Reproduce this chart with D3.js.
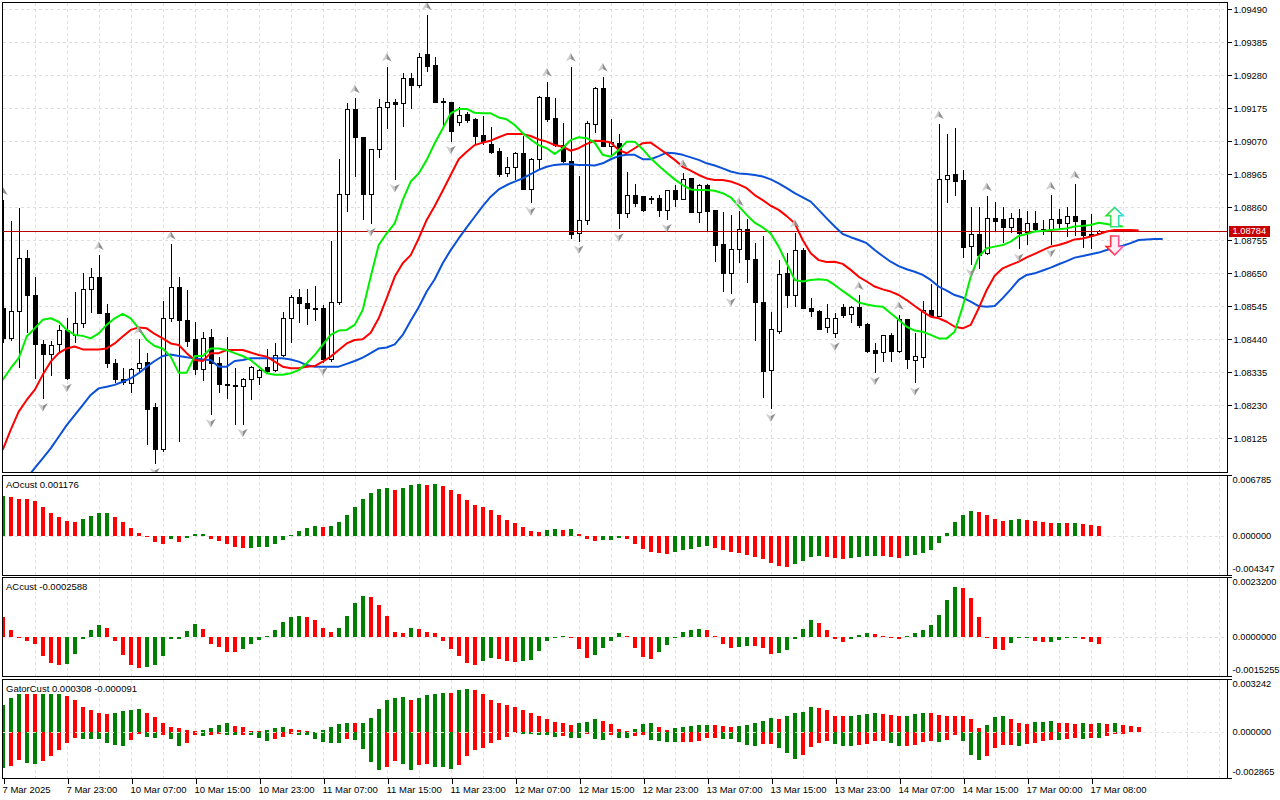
<!DOCTYPE html>
<html>
<head>
<meta charset="utf-8">
<title>EURUSD H1</title>
<script src="https://cdn.jsdelivr.net/npm/d3@7"></script>
<style>
  body { margin: 0; background: #fff; }
  svg { display: block; font-family: "Liberation Sans", Arial, sans-serif; font-size: 9.5px; }
</style>
</head>
<body>
<svg class="chart"></svg>
<script>
const width = 1280;
const height = 800;

// ---------- data ----------
const timeLabels = ["7 Mar 2025", "7 Mar 23:00", "10 Mar 07:00", "10 Mar 15:00", "10 Mar 23:00",
  "11 Mar 07:00", "11 Mar 15:00", "11 Mar 23:00", "12 Mar 07:00", "12 Mar 15:00", "12 Mar 23:00",
  "13 Mar 07:00", "13 Mar 15:00", "13 Mar 23:00", "14 Mar 07:00", "14 Mar 15:00", "17 Mar 00:00", "17 Mar 08:00"];

const priceTicks = [1.09490, 1.09385, 1.09280, 1.09175, 1.09070, 1.08965, 1.08860,
  1.08755, 1.08650, 1.08545, 1.08440, 1.08335, 1.08230, 1.08125];
const lastPrice = 1.08784;

const open = [1.08539,1.08443,1.08528,1.08698,1.08581,1.08424,1.08392,1.08422,1.08468,1.08451,
  1.08489,1.08597,1.08637,1.08523,1.08364,1.08311,1.08300,1.08348,1.08367,1.08224,
  1.08088,1.08507,1.08605,1.08499,1.08438,1.08345,1.08446,1.08364,1.08297,1.08292,
  1.08289,1.08311,1.08318,1.08351,1.08342,1.08387,1.08507,1.08574,1.08555,1.08539,
  1.08539,1.08376,1.08558,1.08901,1.09170,1.09083,1.08901,1.09043,1.09178,1.09194,
  1.09191,1.09271,1.09248,1.09345,1.09310,1.09196,1.09193,1.09129,1.09154,1.09138,
  1.09087,1.09061,1.09037,1.08968,1.08987,1.09032,1.08917,1.09013,1.09210,1.09143,
  1.09058,1.09005,1.08777,1.08818,1.09125,1.09239,1.09053,1.09064,1.08841,1.08897,
  1.08894,1.08886,1.08889,1.08849,1.08912,1.08885,1.08952,1.08844,1.08931,1.08849,
  1.08743,1.08648,1.08726,1.08790,1.08695,1.08557,1.08342,1.08464,1.08648,1.08578,
  1.08724,1.08539,1.08530,1.08478,1.08459,1.08542,1.08520,1.08542,1.08486,1.08403,
  1.08398,1.08451,1.08401,1.08502,1.08374,1.08383,1.08531,1.08514,1.08947,1.08963,
  1.08944,1.08735,1.08774,1.08712,1.08825,1.08820,1.08795,1.08825,1.08780,1.08809,
  1.08788,1.08791,1.08822,1.08807,1.08830,1.08817,1.08770,1.08777];

const high = [1.08883,1.08818,1.08857,1.08724,1.08639,1.08438,1.08436,1.08486,1.08507,1.08590,
  1.08650,1.08668,1.08708,1.08552,1.08376,1.08348,1.08350,1.08440,1.08396,1.08236,
  1.08562,1.08742,1.08639,1.08597,1.08496,1.08462,1.08472,1.08385,1.08449,1.08348,
  1.08318,1.08355,1.08347,1.08408,1.08429,1.08528,1.08581,1.08599,1.08599,1.08610,
  1.08549,1.08754,1.09013,1.09193,1.09207,1.09085,1.09046,1.09205,1.09308,1.09205,
  1.09289,1.09286,1.09350,1.09472,1.09337,1.09207,1.09193,1.09180,1.09164,1.09143,
  1.09151,1.09117,1.09048,1.09021,1.09037,1.09087,1.09016,1.09215,1.09260,1.09207,
  1.09127,1.09308,1.08960,1.09136,1.09242,1.09276,1.09140,1.09092,1.08971,1.08933,
  1.08896,1.08896,1.08899,1.08915,1.08931,1.08970,1.08954,1.08933,1.08933,1.08852,
  1.08844,1.08836,1.08848,1.08822,1.08747,1.08769,1.08526,1.08692,1.08714,1.08779,
  1.08730,1.08573,1.08533,1.08552,1.08523,1.08552,1.08546,1.08581,1.08491,1.08427,
  1.08454,1.08459,1.08518,1.08504,1.08459,1.08562,1.08615,1.09125,1.09093,1.09114,
  1.08979,1.08860,1.08860,1.08896,1.08878,1.08860,1.08841,1.08854,1.08848,1.08848,
  1.08820,1.08899,1.08854,1.08860,1.08934,1.08820,1.08838,1.08788];

const low = [1.08427,1.08436,1.08348,1.08459,1.08313,1.08249,1.08323,1.08396,1.08311,1.08427,
  1.08475,1.08523,1.08521,1.08350,1.08300,1.08295,1.08270,1.08337,1.08104,1.08043,
  1.08083,1.08496,1.08114,1.08417,1.08327,1.08307,1.08199,1.08270,1.08249,1.08168,
  1.08168,1.08247,1.08295,1.08334,1.08337,1.08385,1.08429,1.08493,1.08486,1.08499,
  1.08364,1.08369,1.08549,1.08844,1.08958,1.08820,1.08807,1.09016,1.09109,1.08947,
  1.09117,1.09173,1.09239,1.09292,1.09191,1.09111,1.09069,1.09119,1.09129,1.09058,
  1.09058,1.09030,1.08958,1.08956,1.08947,1.08915,1.08873,1.08979,1.09133,1.09053,
  1.09000,1.08758,1.08751,1.08804,1.09096,1.09051,1.09027,1.08790,1.08825,1.08862,
  1.08846,1.08871,1.08830,1.08820,1.08860,1.08883,1.08841,1.08811,1.08786,1.08687,
  1.08592,1.08584,1.08682,1.08618,1.08436,1.08252,1.08217,1.08456,1.08539,1.08544,
  1.08536,1.08512,1.08470,1.08459,1.08443,1.08507,1.08493,1.08475,1.08398,1.08334,
  1.08369,1.08369,1.08398,1.08345,1.08300,1.08348,1.08512,1.08512,1.08873,1.08897,
  1.08698,1.08677,1.08663,1.08708,1.08785,1.08746,1.08779,1.08726,1.08740,1.08785,
  1.08772,1.08740,1.08790,1.08765,1.08769,1.08732,1.08726,1.08775];

const close = [1.08443,1.08528,1.08698,1.08579,1.08424,1.08392,1.08419,1.08468,1.08316,1.08489,
  1.08597,1.08637,1.08523,1.08364,1.08311,1.08302,1.08345,1.08364,1.08217,1.08088,
  1.08507,1.08605,1.08499,1.08433,1.08345,1.08443,1.08364,1.08297,1.08292,1.08289,
  1.08311,1.08351,1.08342,1.08337,1.08387,1.08507,1.08574,1.08555,1.08539,1.08536,
  1.08376,1.08558,1.08901,1.09170,1.09083,1.08901,1.09043,1.09178,1.09194,1.09188,
  1.09271,1.09248,1.09337,1.09308,1.09193,1.09193,1.09101,1.09152,1.09136,1.09085,
  1.09069,1.09034,1.08966,1.08987,1.09032,1.08917,1.09013,1.09210,1.09140,1.09058,
  1.09005,1.08774,1.08818,1.09127,1.09239,1.09053,1.09066,1.08841,1.08897,1.08873,
  1.08849,1.08887,1.08849,1.08912,1.08885,1.08949,1.08843,1.08931,1.08846,1.08738,
  1.08648,1.08726,1.08788,1.08695,1.08557,1.08337,1.08470,1.08645,1.08578,1.08724,
  1.08539,1.08528,1.08472,1.08507,1.08507,1.08515,1.08542,1.08484,1.08401,1.08396,
  1.08451,1.08401,1.08502,1.08376,1.08385,1.08531,1.08514,1.08947,1.08961,1.08942,
  1.08733,1.08774,1.08708,1.08825,1.08814,1.08795,1.08825,1.08777,1.08809,1.08788,
  1.08790,1.08822,1.08809,1.08830,1.08814,1.08770,1.08772,1.08784];

// Alligator lines as plotted (already shifted forward: lips +3, teeth +5, jaw +8 bars)
const lips = [1.08311,1.08348,1.08380,1.08449,1.08475,1.08502,1.08507,1.08496,1.08470,1.08454,
  1.08451,1.08443,1.08459,1.08486,1.08507,1.08521,1.08507,1.08475,1.08438,1.08419,
  1.08411,1.08385,1.08334,1.08334,1.08387,1.08387,1.08411,1.08411,1.08406,1.08396,
  1.08387,1.08374,1.08353,1.08332,1.08327,1.08327,1.08332,1.08342,1.08364,1.08390,
  1.08422,1.08454,1.08468,1.08470,1.08486,1.08533,1.08639,1.08740,1.08777,1.08809,
  1.08883,1.08942,1.08968,1.09011,1.09064,1.09111,1.09159,1.09173,1.09173,1.09161,
  1.09159,1.09159,1.09146,1.09140,1.09122,1.09096,1.09076,1.09058,1.09048,1.09030,
  1.09048,1.09074,1.09083,1.09080,1.09066,1.09027,1.09021,1.09042,1.09069,1.09069,
  1.09045,1.09016,1.08992,1.08970,1.08949,1.08931,1.08917,1.08915,1.08915,1.08913,
  1.08905,1.08892,1.08864,1.08836,1.08811,1.08796,1.08777,1.08735,1.08682,1.08629,
  1.08624,1.08629,1.08631,1.08629,1.08613,1.08594,1.08576,1.08557,1.08551,1.08546,
  1.08544,1.08523,1.08502,1.08480,1.08468,1.08464,1.08454,1.08443,1.08443,1.08464,
  1.08544,1.08639,1.08703,1.08730,1.08735,1.08740,1.08751,1.08769,1.08775,1.08783,
  1.08785,1.08788,1.08790,1.08793,1.08799,1.08801,1.08804,1.08811,1.08807,1.08802,
  1.08799];

const teeth = [1.08088,1.08152,1.08210,1.08247,1.08279,1.08327,1.08369,1.08396,1.08411,1.08417,
  1.08408,1.08408,1.08408,1.08411,1.08427,1.08449,1.08470,1.08478,1.08475,1.08457,
  1.08443,1.08427,1.08422,1.08396,1.08374,1.08371,1.08396,1.08396,1.08406,1.08406,
  1.08406,1.08398,1.08390,1.08385,1.08369,1.08353,1.08348,1.08348,1.08353,1.08355,
  1.08369,1.08385,1.08406,1.08427,1.08438,1.08440,1.08461,1.08507,1.08571,1.08639,
  1.08682,1.08708,1.08761,1.08820,1.08864,1.08913,1.08963,1.09013,1.09037,1.09058,
  1.09066,1.09072,1.09083,1.09093,1.09093,1.09093,1.09087,1.09076,1.09069,1.09058,
  1.09053,1.09040,1.09048,1.09062,1.09072,1.09071,1.09066,1.09042,1.09032,1.09048,
  1.09064,1.09066,1.09048,1.09030,1.09011,1.08989,1.08977,1.08963,1.08952,1.08947,
  1.08947,1.08942,1.08933,1.08921,1.08899,1.08883,1.08865,1.08852,1.08832,1.08809,
  1.08756,1.08714,1.08692,1.08686,1.08687,1.08680,1.08661,1.08639,1.08624,1.08608,
  1.08599,1.08592,1.08581,1.08565,1.08546,1.08528,1.08512,1.08507,1.08496,1.08480,
  1.08475,1.08486,1.08539,1.08597,1.08642,1.08666,1.08677,1.08687,1.08701,1.08712,
  1.08724,1.08735,1.08740,1.08748,1.08758,1.08761,1.08767,1.08774,1.08783,1.08788,
  1.08788,1.08788,1.08786];

const jaw = [1.07934,1.07955,1.07977,1.07998,1.08030,1.08061,1.08093,1.08130,1.08167,1.08199,
  1.08231,1.08263,1.08284,1.08289,1.08295,1.08305,1.08316,1.08332,1.08353,1.08371,
  1.08387,1.08392,1.08387,1.08383,1.08380,1.08376,1.08374,1.08353,1.08353,1.08371,
  1.08374,1.08380,1.08380,1.08380,1.08380,1.08380,1.08376,1.08369,1.08358,1.08353,
  1.08353,1.08353,1.08353,1.08362,1.08371,1.08382,1.08396,1.08411,1.08414,1.08424,
  1.08454,1.08499,1.08542,1.08592,1.08631,1.08682,1.08724,1.08761,1.08796,1.08830,
  1.08864,1.08894,1.08917,1.08931,1.08942,1.08952,1.08966,1.08979,1.08989,1.08995,
  1.08997,1.08997,1.08995,1.08995,1.08993,1.09000,1.09013,1.09023,1.09027,1.09027,
  1.09013,1.09013,1.09023,1.09034,1.09032,1.09027,1.09019,1.09011,1.09000,1.08993,
  1.08984,1.08974,1.08968,1.08966,1.08963,1.08958,1.08949,1.08936,1.08921,1.08905,
  1.08892,1.08878,1.08852,1.08825,1.08799,1.08775,1.08765,1.08756,1.08746,1.08724,
  1.08705,1.08687,1.08673,1.08663,1.08655,1.08645,1.08629,1.08608,1.08595,1.08581,
  1.08573,1.08560,1.08546,1.08544,1.08546,1.08571,1.08599,1.08629,1.08645,1.08650,
  1.08659,1.08668,1.08679,1.08689,1.08700,1.08705,1.08711,1.08716,1.08724,1.08733,
  1.08738,1.08746,1.08756,1.08758,1.08759,1.08759];

const fractalUp = [0, 12, 17, 21, 44, 48, 53, 68, 71, 75, 85, 92, 99, 107, 112, 117, 123, 131, 134];
const fractalDown = [5, 8, 19, 26, 30, 40, 46, 49, 56, 66, 72, 77, 83, 91, 96, 104, 109, 114, 121, 127, 131];

const signalBar = 139;
const signalUpPrice = 1.08798;   // bottom of the buy arrow
const signalDownPrice = 1.08769; // top of the sell arrow

const aoValues = [0.00453,0.00441,0.00419,0.00418,0.00397,0.00330,0.00263,0.00219,0.00174,0.00163,
  0.00197,0.00230,0.00263,0.00264,0.00219,0.00163,0.00096,0.00041,0.00004,-0.00059,
  -0.00082,-0.00033,-0.00059,-0.00022,0.00022,0.00023,-0.00033,-0.00048,-0.00082,-0.00115,
  -0.00126,-0.00124,-0.00122,-0.00115,-0.00082,-0.00037,0.00011,0.00056,0.00089,0.00111,
  0.00110,0.00112,0.00156,0.00234,0.00323,0.00412,0.00479,0.00523,0.00534,0.00512,
  0.00534,0.00568,0.00579,0.00568,0.00579,0.00557,0.00512,0.00467,0.00401,0.00345,
  0.00323,0.00289,0.00234,0.00178,0.00145,0.00100,0.00056,0.00055,0.00067,0.00078,
  0.00074,0.00078,0.00022,-0.00026,-0.00056,-0.00041,-0.00037,-0.00015,-0.00030,-0.00089,
  -0.00145,-0.00178,-0.00189,-0.00190,-0.00178,-0.00156,-0.00145,-0.00122,-0.00111,-0.00134,
  -0.00156,-0.00178,-0.00189,-0.00211,-0.00234,-0.00256,-0.00300,-0.00334,-0.00338,-0.00312,
  -0.00278,-0.00234,-0.00223,-0.00226,-0.00245,-0.00256,-0.00245,-0.00234,-0.00223,-0.00219,
  -0.00223,-0.00234,-0.00237,-0.00223,-0.00211,-0.00189,-0.00156,-0.00078,0.00033,0.00156,
  0.00234,0.00278,0.00267,0.00234,0.00189,0.00176,0.00186,0.00197,0.00186,0.00167,
  0.00156,0.00152,0.00153,0.00149,0.00152,0.00137,0.00130,0.00118];

const acValues = [0.00077,0.00029,-0.00004,-0.00015,-0.00027,-0.00073,-0.00100,-0.00108,-0.00104,-0.00065,
  -0.00006,0.00029,0.00049,0.00037,-0.00015,-0.00069,-0.00108,-0.00119,-0.00115,-0.00108,
  -0.00073,-0.00008,-0.00006,0.00026,0.00052,0.00033,-0.00027,-0.00038,-0.00058,-0.00059,
  -0.00046,-0.00027,-0.00012,0.00004,0.00029,0.00060,0.00077,0.00084,0.00077,0.00065,
  0.00035,0.00019,0.00035,0.00084,0.00134,0.00161,0.00157,0.00127,0.00081,0.00019,
  0.00018,0.00035,0.00031,0.00019,0.00015,-0.00014,-0.00045,-0.00072,-0.00102,-0.00106,
  -0.00091,-0.00079,-0.00083,-0.00091,-0.00095,-0.00091,-0.00087,-0.00052,-0.00014,0.00001,
  0.00003,0.00002,-0.00045,-0.00079,-0.00068,-0.00041,-0.00014,0.00015,0.00004,-0.00041,
  -0.00076,-0.00083,-0.00056,-0.00029,-0.00003,0.00019,0.00027,0.00031,0.00027,0.00004,
  -0.00026,-0.00041,-0.00037,-0.00033,-0.00034,-0.00041,-0.00064,-0.00063,-0.00050,-0.00006,
  0.00031,0.00065,0.00054,0.00027,-0.00006,-0.00018,-0.00006,0.00008,0.00015,0.00012,
  0.00004,-0.00003,-0.00006,0.00004,0.00015,0.00027,0.00046,0.00088,0.00146,0.00196,
  0.00192,0.00154,0.00077,-0.00003,-0.00045,-0.00050,-0.00023,-0.00003,-0.00001,-0.00013,
  -0.00019,-0.00018,-0.00010,-0.00004,-0.00001,-0.00006,-0.00019,-0.00026];

const gatorUpper = [0.00167,0.00212,0.00261,0.00255,0.00249,0.00257,0.00265,0.00271,0.00224,0.00200,
  0.00157,0.00133,0.00120,0.00114,0.00120,0.00129,0.00139,0.00145,0.00120,0.00090,
  0.00053,0.00029,0.00024,0.00014,0.00004,0.00010,0.00022,0.00041,0.00053,0.00035,
  0.00029,0.00006,0.00004,0.00010,0.00022,0.00029,0.00016,0.00014,0.00004,0.00002,
  0.00010,0.00029,0.00047,0.00055,0.00053,0.00056,0.00084,0.00145,0.00200,0.00212,
  0.00214,0.00200,0.00212,0.00231,0.00237,0.00243,0.00241,0.00261,0.00267,0.00261,
  0.00237,0.00200,0.00182,0.00169,0.00157,0.00139,0.00120,0.00102,0.00078,0.00065,
  0.00053,0.00041,0.00053,0.00065,0.00078,0.00071,0.00047,0.00016,0.00006,0.00020,
  0.00047,0.00053,0.00029,0.00010,0.00022,0.00029,0.00035,0.00041,0.00043,0.00041,
  0.00035,0.00029,0.00035,0.00041,0.00053,0.00071,0.00084,0.00078,0.00096,0.00120,
  0.00122,0.00157,0.00151,0.00133,0.00102,0.00096,0.00098,0.00108,0.00114,0.00120,
  0.00114,0.00108,0.00096,0.00102,0.00114,0.00120,0.00118,0.00108,0.00102,0.00100,
  0.00096,0.00078,0.00022,0.00041,0.00090,0.00096,0.00078,0.00053,0.00051,0.00059,
  0.00065,0.00066,0.00057,0.00053,0.00052,0.00053,0.00051,0.00053,0.00047,0.00053,
  0.00041,0.00039,0.00031];

const gatorLower = [-0.00224,-0.00208,-0.00173,-0.00192,-0.00198,-0.00180,-0.00149,-0.00108,-0.00065,-0.00039,
  -0.00041,-0.00042,-0.00043,-0.00067,-0.00082,-0.00088,-0.00047,-0.00010,-0.00031,-0.00037,
  -0.00020,-0.00043,-0.00086,-0.00067,-0.00016,-0.00024,-0.00016,-0.00014,-0.00020,-0.00021,
  -0.00016,-0.00018,-0.00037,-0.00055,-0.00043,-0.00031,-0.00010,-0.00016,-0.00018,-0.00045,
  -0.00061,-0.00067,-0.00069,-0.00045,-0.00049,-0.00104,-0.00184,-0.00233,-0.00214,-0.00177,
  -0.00196,-0.00233,-0.00202,-0.00200,-0.00214,-0.00216,-0.00226,-0.00202,-0.00147,-0.00110,
  -0.00098,-0.00067,-0.00049,-0.00031,-0.00004,-0.00010,-0.00012,-0.00018,-0.00020,-0.00031,
  -0.00024,-0.00037,-0.00039,-0.00012,-0.00043,-0.00049,-0.00020,-0.00037,-0.00039,-0.00024,
  -0.00018,-0.00049,-0.00055,-0.00059,-0.00061,-0.00060,-0.00059,-0.00055,-0.00037,-0.00035,
  -0.00043,-0.00044,-0.00061,-0.00080,-0.00086,-0.00073,-0.00071,-0.00098,-0.00129,-0.00165,
  -0.00141,-0.00092,-0.00067,-0.00055,-0.00073,-0.00086,-0.00087,-0.00080,-0.00073,-0.00055,
  -0.00053,-0.00067,-0.00086,-0.00084,-0.00080,-0.00061,-0.00055,-0.00061,-0.00049,-0.00018,
  -0.00055,-0.00141,-0.00171,-0.00147,-0.00098,-0.00082,-0.00081,-0.00088,-0.00075,-0.00067,
  -0.00055,-0.00049,-0.00050,-0.00041,-0.00039,-0.00043,-0.00037,-0.00038,-0.00024,-0.00012,
  -0.00009];

const aoTicks = [0.006785, 0, -0.004347];
const acTicks = [0.00232, 0, -0.0015255];
const gatorTicks = [0.003242, 0, -0.002865];

// ---------- layout ----------
const left = 2.5;
const right = 1227.5;
const green = "#008000";
const red = "#ff0000";
const axisFont = "9.3px";

// plain hyphen for negative numbers, like the terminal does
const locale = d3.formatLocale({ decimal: ".", thousands: "", grouping: [3], currency: ["", ""], minus: "-" });

const svg = d3.select(".chart").attr("width", width).attr("height", height);
const defs = svg.append("defs");

const barX = d3.scaleLinear().domain([0, 1]).range([2.7, 10.7]);
const px = (i) => Math.round(barX(i));

const yMain = d3.scaleLinear().domain([1.0802, 1.0949]).range([471.33, 9.33]);
const yAO = d3.scaleLinear().domain([-0.004347, 0.006785]).range([575.5, 475.5]);
const yAC = d3.scaleLinear().domain([-0.0015255, 0.00232]).range([676.5, 577.5]);
const yGator = d3.scaleLinear().domain([-0.002865, 0.003242]).range([778.5, 679.5]);

const panels = [
  { id: "p-main", top: 2.5, bottom: 472.5 },
  { id: "p-ao", top: 475.5, bottom: 575.5 },
  { id: "p-ac", top: 577.5, bottom: 676.5 },
  { id: "p-gator", top: 679.5, bottom: 778.5 },
];

panels.forEach((p) => {
  defs.append("clipPath").attr("id", p.id)
    .append("rect")
    .attr("x", left).attr("y", p.top)
    .attr("width", right - left).attr("height", p.bottom - p.top);
});

// gradients for the signal arrows
const gUp = defs.append("linearGradient").attr("id", "gUp").attr("x1", 0).attr("x2", 1);
gUp.append("stop").attr("offset", "0%").attr("stop-color", "#33dd22");
gUp.append("stop").attr("offset", "100%").attr("stop-color", "#33ddee");
const gDn = defs.append("linearGradient").attr("id", "gDn").attr("x1", 0).attr("x2", 1);
gDn.append("stop").attr("offset", "0%").attr("stop-color", "#ff2020");
gDn.append("stop").attr("offset", "100%").attr("stop-color", "#ff66bb");

// ---------- grid ----------
const gridColor = "#dedede";
const grid = svg.append("g").attr("shape-rendering", "crispEdges");
const vBars = d3.range(4, 153, 4);

panels.forEach((p) => {
  grid.append("g").selectAll("line").data(vBars).join("line")
    .attr("x1", (d) => px(d) + 0.5).attr("x2", (d) => px(d) + 0.5)
    .attr("y1", p.top).attr("y2", p.bottom)
    .attr("stroke", gridColor).attr("stroke-dasharray", "3,3");
});

grid.append("g").selectAll("line").data(priceTicks).join("line")
  .attr("x1", left).attr("x2", right)
  .attr("y1", (d) => Math.round(yMain(d)) + 0.5).attr("y2", (d) => Math.round(yMain(d)) + 0.5)
  .attr("stroke", gridColor).attr("stroke-dasharray", "3,3");

[yAO, yAC].forEach((s) => {
  grid.append("line")
    .attr("x1", left).attr("x2", right)
    .attr("y1", Math.round(s(0)) + 0.5).attr("y2", Math.round(s(0)) + 0.5)
    .attr("stroke", gridColor).attr("stroke-dasharray", "3,3");
});

// ---------- main panel ----------
const main = svg.append("g").attr("clip-path", "url(#p-main)");

const candles = open.map((o, i) => ({ i, o, h: high[i], l: low[i], c: close[i] }));

const cg = main.append("g").attr("shape-rendering", "crispEdges");
cg.selectAll("line").data(candles).join("line")
  .attr("x1", (d) => px(d.i) + 0.5).attr("x2", (d) => px(d.i) + 0.5)
  .attr("y1", (d) => yMain(d.h)).attr("y2", (d) => yMain(d.l))
  .attr("stroke", "#000");
cg.selectAll("rect").data(candles).join("rect")
  .attr("x", (d) => px(d.i) - 1.5)
  .attr("width", 4)
  .attr("y", (d) => yMain(Math.max(d.o, d.c)))
  .attr("height", (d) => Math.max(0.5, Math.abs(yMain(d.o) - yMain(d.c))))
  .attr("fill", (d) => (d.c >= d.o ? "#fff" : "#000"))
  .attr("stroke", "#000");

// last price line
main.append("line")
  .attr("x1", left).attr("x2", right)
  .attr("y1", Math.round(yMain(lastPrice)) + 0.5).attr("y2", Math.round(yMain(lastPrice)) + 0.5)
  .attr("stroke", "#b80000").attr("shape-rendering", "crispEdges");

// alligator
const line = d3.line().x((d, i) => barX(i)).y((d) => yMain(d));
[[jaw, "#0a50d8"], [teeth, "#ff0000"], [lips, "#00ee00"]].forEach(([vals, col]) => {
  main.append("path")
    .datum(vals)
    .attr("d", line)
    .attr("fill", "none")
    .attr("stroke", col)
    .attr("stroke-width", 2)
    .attr("stroke-linejoin", "round");
});

// fractals
function fractal(g, x, y, up) {
  const s = up ? 1 : -1;
  const a = g.append("g").attr("transform", `translate(${x},${y})`);
  a.append("path").attr("d", `M0,${-4.5 * s}L-5,${4 * s}L0,${1.5 * s}Z`).attr("fill", "#cfcfcf");
  a.append("path").attr("d", `M0,${-4.5 * s}L5,${4 * s}L0,${1.5 * s}Z`).attr("fill", "#8f8f8f");
}
const fg = main.append("g");
fractalUp.forEach((i) => fractal(fg, barX(i), yMain(high[i]) - 9, true));
fractalDown.forEach((i) => fractal(fg, barX(i), yMain(low[i]) + 8, false));

// signal arrows
const sx = barX(signalBar);
const yb = yMain(signalUpPrice);
const t = yb - 19.5, hb = t + 8.5;
main.append("path")
  .attr("d", `M${sx},${t}L${sx + 8.5},${hb}L${sx + 4},${hb}L${sx + 4},${yb}L${sx - 4},${yb}L${sx - 4},${hb}L${sx - 8.5},${hb}Z`)
  .attr("fill", "#fbfff4").attr("stroke", "url(#gUp)").attr("stroke-width", 1.6);
const yt = yMain(signalDownPrice);
const hd = yt + 10.5, tip = yt + 19;
main.append("path")
  .attr("d", `M${sx - 4},${yt}L${sx + 4},${yt}L${sx + 4},${hd}L${sx + 8.5},${hd}L${sx},${tip}L${sx - 8.5},${hd}L${sx - 4},${hd}Z`)
  .attr("fill", "#fff0f6").attr("stroke", "url(#gDn)").attr("stroke-width", 1.6);

// ---------- histograms ----------
// AO / AC colour: value above previous -> green
function signedHistogram(clipId, values, scale, firstGreen) {
  const g = svg.append("g").attr("clip-path", `url(#${clipId})`).attr("shape-rendering", "crispEdges");
  g.selectAll("rect").data(values).join("rect")
    .attr("x", (d, i) => px(i) - 2)
    .attr("width", 4)
    .attr("y", (d) => Math.min(scale(d), scale(0)))
    .attr("height", (d) => Math.max(1, Math.abs(scale(d) - scale(0))))
    .attr("fill", (d, i) => (i === 0 ? (firstGreen ? green : red) : d > values[i - 1] ? green : red));
}

signedHistogram("p-ao", aoValues, yAO, true);
signedHistogram("p-ac", acValues, yAC, false);

// gator: bar grows in size -> green
function gatorHistogram(values) {
  const g = svg.append("g").attr("clip-path", "url(#p-gator)").attr("shape-rendering", "crispEdges");
  g.selectAll("rect").data(values).join("rect")
    .attr("x", (d, i) => px(i) - 2)
    .attr("width", 4)
    .attr("y", (d) => Math.min(yGator(d), yGator(0)))
    .attr("height", (d) => Math.max(1, Math.abs(yGator(d) - yGator(0))))
    .attr("fill", (d, i) => (i === 0 || Math.abs(d) > Math.abs(values[i - 1]) ? green : red));
}
gatorHistogram(gatorUpper);
gatorHistogram(gatorLower);

svg.append("line")
  .attr("x1", left).attr("x2", right)
  .attr("y1", Math.round(yGator(0)) + 0.5).attr("y2", Math.round(yGator(0)) + 0.5)
  .attr("stroke", "#e4e4e4").attr("stroke-dasharray", "3,3")
  .attr("shape-rendering", "crispEdges");

// ---------- indicator labels ----------
function panelLabel(text, y) {
  const g = svg.append("g");
  const bg = g.append("rect").attr("fill", "#fff");
  const tx = g.append("text").attr("x", 6).attr("y", y).attr("fill", "#000").text(text);
  const b = tx.node().getBBox();
  bg.attr("x", b.x - 1).attr("y", b.y).attr("width", b.width + 2).attr("height", b.height);
}
panelLabel("AOcust 0.001176", 488);
panelLabel("ACcust -0.0002588", 590);
panelLabel("GatorCust 0.000308 -0.000091", 692);

// ---------- frames ----------
panels.forEach((p) => {
  svg.append("rect")
    .attr("x", left).attr("y", p.top)
    .attr("width", right - left).attr("height", p.bottom - p.top)
    .attr("fill", "none").attr("stroke", "#000")
    .attr("shape-rendering", "crispEdges");
});

// ---------- axes ----------
const priceAxis = svg.append("g")
  .attr("transform", `translate(${right},0)`)
  .call(d3.axisRight(yMain).tickValues(priceTicks).tickSize(4).tickPadding(2).tickFormat(d3.format(".5f")));
priceAxis.select(".domain").remove();
priceAxis.selectAll("text").style("font-size", axisFont).style("font-family", "Liberation Sans, Arial, sans-serif");
priceAxis.attr("shape-rendering", "crispEdges");

// last price box
const lp = Math.round(yMain(lastPrice));
svg.append("rect").attr("x", 1229).attr("y", lp - 5).attr("width", 41).attr("height", 11).attr("fill", "#c80000");
svg.append("text").attr("x", 1232.5).attr("y", lp + 0.5).attr("dominant-baseline", "middle")
  .style("font-size", axisFont).attr("fill", "#fff").text(d3.format(".5f")(lastPrice));

function subAxis(ticks, scale, fmt, top, bottom) {
  const g = svg.append("g").attr("shape-rendering", "crispEdges");
  const pos = [top + 5, scale(0), bottom - 5.5];
  g.selectAll("text").data(ticks).join("text")
    .attr("x", right + 5)
    .attr("y", (d, i) => pos[i])
    .attr("dominant-baseline", "middle")
    .attr("fill", "#000")
    .style("font-size", axisFont)
    .text((d) => locale.format(fmt)(d));
  g.selectAll("line").data([top, bottom]).join("line")
    .attr("x1", right).attr("x2", right + 4)
    .attr("y1", (d) => d).attr("y2", (d) => d)
    .attr("stroke", "#000");
}
subAxis(aoTicks, yAO, ".6f", 475.5, 575.5);
subAxis(acTicks, yAC, ".7f", 577.5, 676.5);
subAxis(gatorTicks, yGator, ".6f", 679.5, 778.5);

const labelBars = timeLabels.map((d, i) => i * 8);
const timeAxis = svg.append("g")
  .attr("transform", `translate(0,${panels[3].bottom})`)
  .call(d3.axisBottom(d3.scaleLinear().domain([0, 1]).range([px(0) + 0.5, px(1) + 0.5]))
    .tickValues(labelBars).tickSize(5).tickPadding(3)
    .tickFormat((d, i) => timeLabels[i]));
timeAxis.select(".domain").remove();
timeAxis.attr("shape-rendering", "crispEdges");
timeAxis.selectAll("text")
  .attr("text-anchor", "start").attr("x", -1.5)
  .style("font-size", "9.5px").style("font-family", "Liberation Sans, Arial, sans-serif");
</script>
</body>
</html>
